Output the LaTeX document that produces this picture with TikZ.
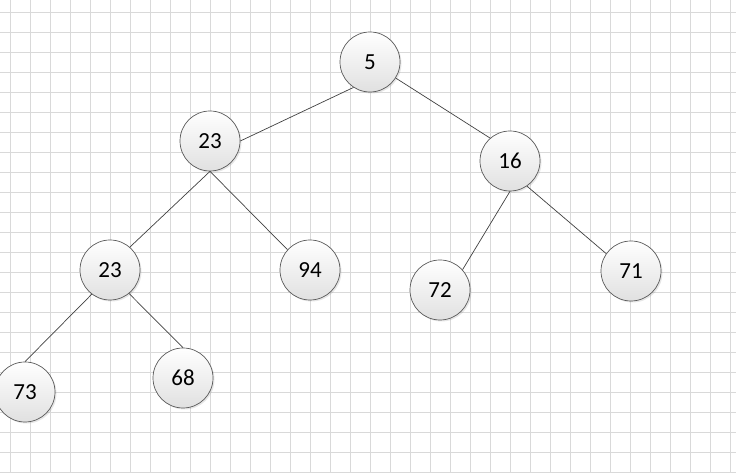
\documentclass[tikz,border=0pt]{standalone}
\usepackage{fontspec}
\setmainfont{Carlito}
\usetikzlibrary{shadows}

\begin{document}
\begin{tikzpicture}[
    x=1pt, y=1pt,
    gridline/.style = {draw=black!15, line width=0.8pt},
    heap/.style     = {circle, draw=black!65, line width=0.7pt,
      minimum size=60pt, inner sep=0pt, top color=white, bottom color=black!12,
      drop shadow={shadow xshift=1.5pt, shadow yshift=-1.5pt, opacity=0.2},
      font=\fontsize{23}{27}\selectfont},
    link/.style     = {draw=black!75, line width=0.7pt}
  ]
  \useasboundingbox (0,0) rectangle (736,473);
  % background grid
  \begin{scope}
    \clip (0,0) rectangle (736,473);
    \path [gridline, shift={(10,1)}] (-20,-20) grid [step=20pt] (740,480);
  \end{scope}
  % heap nodes
  \node [heap] (root)  at (370,411) {5};
  \node [heap] (left)  at (210,332) {23};
  \node [heap] (right) at (510,312) {16};
  \node [heap] (ll)    at (110,203) {23};
  \node [heap] (lr)    at (310,203) {94};
  \node [heap] (rl)    at (440,183) {72};
  \node [heap] (rr)    at (631,202) {71};
  \node [heap] (lll)   at (25,81)   {73};
  \node [heap] (llr)   at (183,95)  {68};
  % edges, glued to fixed points on the circles
  \draw [link] (root.237) -- (left.east);
  \draw [link] (root.328) -- (right.131);
  \draw [link] (left.south) -- (ll.49);
  \draw [link] (left.south) -- (lr.138);
  \draw [link] (right.south) -- (rl.42);
  \draw [link] (right.304) -- (rr.145);
  \draw [link] (ll.233) -- (lll.north);
  \draw [link] (ll.309) -- (llr.north);
\end{tikzpicture}
\end{document}
